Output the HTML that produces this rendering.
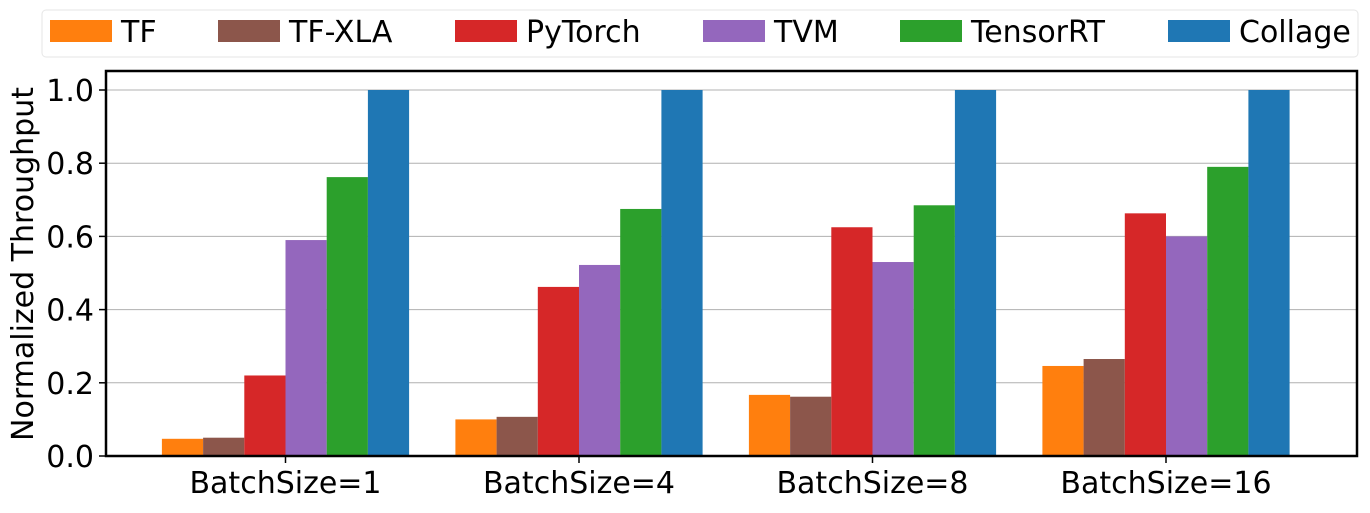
<!DOCTYPE html>
<html><head><meta charset="utf-8"><style>
body{margin:0;background:#fff;width:1370px;height:508px;overflow:hidden}
svg text{font-family:"DejaVu Sans","Liberation Sans",sans-serif;fill:#000}
</style></head><body>
<svg id="chart" width="1370" height="508" xmlns="http://www.w3.org/2000/svg"></svg>
<script>
const categories = ["BatchSize=1","BatchSize=4","BatchSize=8","BatchSize=16"];
const seriesNames = ["TF","TF-XLA","PyTorch","TVM","TensorRT","Collage"];
const seriesColors = ["#ff7f0e","#8c564b","#d62728","#9467bd","#2ca02c","#1f77b4"];
const tfVals = [0.047,0.100,0.167,0.246];
const tfxlaVals = [0.050,0.107,0.162,0.265];
const pytorchVals = [0.220,0.462,0.625,0.663];
const tvmVals = [0.590,0.522,0.530,0.600];
const trtVals = [0.762,0.675,0.685,0.790];
const collageVals = [1,1,1,1];
const yTicks = [0.0,0.2,0.4,0.6,0.8,1.0];

const series=[tfVals,tfxlaVals,pytorchVals,tvmVals,trtVals,collageVals];
const svg=document.getElementById('chart');
const NS='http://www.w3.org/2000/svg';
const L=106,R=1357,T=71,B=456;
const y=v=>B-v*366;
const groupW=293.5, c0=285.5, barW=41.2;
const xc=i=>c0+i*groupW;
function mk(tag,attrs){const e=document.createElementNS(NS,tag);for(const k in attrs)e.setAttribute(k,attrs[k]);svg.appendChild(e);return e;}
yTicks.forEach(t=>{
  const g=mk('line',{x1:L,x2:R,y1:y(t),y2:y(t),stroke:'#b0b0b0','stroke-width':1});
  
  
  const tk=mk('line',{x1:L-7,x2:L,y1:y(t),y2:y(t),stroke:'#000','stroke-width':1.5});
  
  
  const tx=mk('text',{x:L-12,y:y(t)+11,'text-anchor':'end','font-size':30});
  tx.textContent=t.toFixed(1);
  
  
});
series.forEach((vals,s)=>{
  vals.forEach((v,i)=>{
    const x=xc(i)+(s-3)*barW;
    const r=mk('rect',{x:x,y:y(v),width:barW,height:B-y(v),fill:seriesColors[s]});
    
    
  });
});
categories.forEach((c,i)=>{
  const tk=mk('line',{x1:xc(i),x2:xc(i),y1:B,y2:B+7,stroke:'#000','stroke-width':1.5});
  
  
  const tx=mk('text',{x:xc(i),y:B+37,'text-anchor':'middle','font-size':30});
  tx.textContent=c;
  
  
});
const fr=mk('rect',{x:L,y:T,width:R-L,height:B-T,fill:'none',stroke:'#000','stroke-width':2.5});


const yl=mk('text',{x:0,y:0,'text-anchor':'middle','font-size':30,transform:'translate(33,264) rotate(-90)'});
yl.textContent='Normalized Throughput';


const lb=mk('rect',{x:42,y:10,width:1316,height:47,rx:4,fill:'#fff',stroke:'#e6e6e6','stroke-width':1});


const lx=[50,218,455,703,900,1168];
seriesNames.forEach((n,s)=>{
  const p=mk('rect',{x:lx[s],y:20,width:62,height:22,fill:seriesColors[s]});
  
  
  const t=mk('text',{x:lx[s]+71,y:42,'font-size':30});
  t.textContent=n;
  
  
});
</script>
</body></html>
